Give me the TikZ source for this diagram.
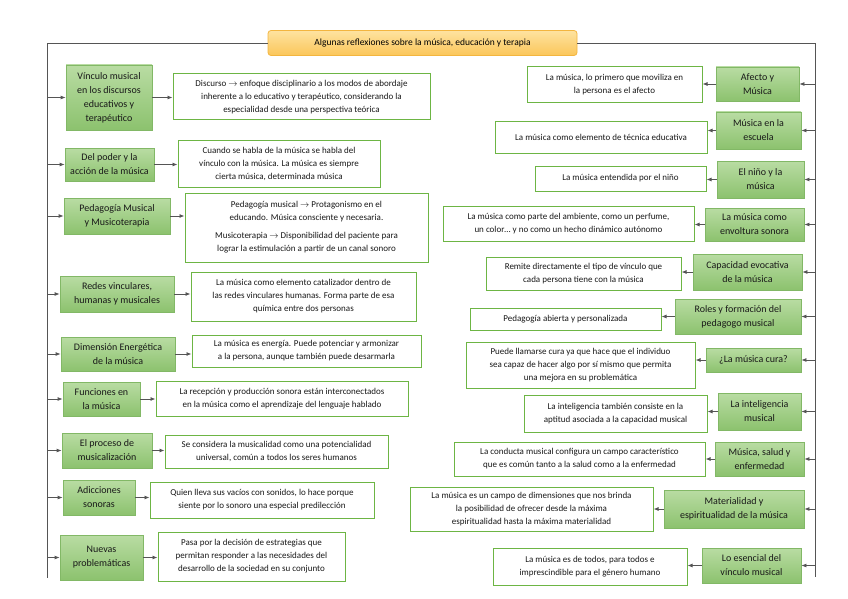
\documentclass[tikz,border=0pt]{standalone}
\usepackage{fontspec}
\setmainfont{Carlito}
\usetikzlibrary{arrows.meta}
\definecolor{gtop}{HTML}{B9DCA3}
\definecolor{gbot}{HTML}{8CC26E}
\definecolor{gdraw}{HTML}{82B866}
\definecolor{wdraw}{HTML}{6DB544}
\definecolor{ttop}{HTML}{FEE3A0}
\definecolor{tbot}{HTML}{FBC65A}
\definecolor{tdraw}{HTML}{F3B53F}
\definecolor{ln}{HTML}{555555}
\tikzset{
 gbox/.style={draw=gdraw,line width=0.8pt,top color=gtop,bottom color=gbot,align=center,inner sep=1pt,font=\fontsize{10}{14}\selectfont,text=black!90},
 wbox/.style={draw=wdraw,line width=1pt,fill=white,align=center,inner sep=1pt,font=\fontsize{9}{13}\selectfont,text=black!90},
 arr/.style={draw=ln,line width=0.8pt,-{Latex[length=5pt,width=4pt]}},
 trunk/.style={draw=ln,line width=0.9pt}
}
\newcommand{\bx}[7]{\node[#1,minimum width={(#5-#3)*1pt},minimum height={(#6-#4)*1pt}] (#2) at ({(#3+#5)/2},{(#4+#6)/2}) {#7};}
\begin{document}
\begin{tikzpicture}[x=1pt,y=-1pt]
\useasboundingbox (0,0) rectangle (848,599);
\node[draw=tdraw,line width=0.8pt,top color=ttop,bottom color=tbot,rounded corners=3pt,minimum width=309pt,minimum height=25pt,font=\fontsize{9.5}{11}\selectfont] (title) at (422.5,43) {Algunas reflexiones sobre la música, educación y terapia};
\coordinate (LT) at (47,43);
\coordinate (RT) at (815,43);
\coordinate (LB) at (47,578);
\coordinate (RB) at (815,577);
\draw[trunk] (title.west) -- (LT) -- (LB);
\draw[trunk] (title.east) -- (RT) -- (RB);
% left
\bx{gbox}{g1}{66}{65}{152}{130}{Vínculo musical\\en los discursos\\educativos y\\terapéutico}
\bx{wbox}{w1}{173}{74}{430}{120}{Discurso $\rightarrow$ enfoque disciplinario a los modos de abordaje\\inherente a lo educativo y terapéutico, considerando la\\especialidad desde una perspectiva teórica}
\bx{gbox}{g2}{65}{148}{154}{181}{Del poder y la\\acción de la música}
\bx{wbox}{w2}{178}{140}{380}{187}{Cuando se habla de la música se habla del\\vínculo con la música. La música es siempre\\cierta música, determinada música}
\bx{gbox}{g3}{64}{198}{170}{234}{Pedagogía Musical\\y Musicoterapia}
\bx{wbox}{w3}{185}{193}{428}{262}{Pedagogía musical $\rightarrow$ Protagonismo en el\\educando. Música consciente y necesaria.\\[5pt] Musicoterapia $\rightarrow$ Disponibilidad del paciente para\\lograr la estimulación a partir de un canal sonoro}
\bx{gbox}{g4}{60}{276}{174}{312}{Redes vinculares,\\humanas y musicales}
\bx{wbox}{w4}{191}{272}{416}{321}{La música como elemento catalizador dentro de\\las redes vinculares humanas. Forma parte de esa\\química entre dos personas}
\bx{gbox}{g5}{61}{337}{175}{371}{Dimensión Energética\\de la música}
\bx{wbox}{w5}{192}{335}{421}{367}{La música es energía. Puede potenciar y armonizar\\a la persona, aunque también puede desarmarla}
\bx{gbox}{g6}{63}{382}{140}{416}{Funciones en\\la música}
\bx{wbox}{w6}{156}{381}{408}{416}{La recepción y producción sonora están interconectados\\en la música como el aprendizaje del lenguaje hablado}
\bx{gbox}{g7}{62}{433}{152}{468}{El proceso de\\musicalización}
\bx{wbox}{w7}{165}{435}{388}{468}{Se considera la musicalidad como una potencialidad\\universal, común a todos los seres humanos}
\bx{gbox}{g8}{63}{480}{135}{515}{Adicciones\\sonoras}
\bx{wbox}{w8}{150}{482}{374}{518}{Quien lleva sus vacíos con sonidos, lo hace porque\\siente por lo sonoro una especial predilección}
\bx{gbox}{g9}{60}{535}{143}{580}{Nuevas\\problemáticas}
\bx{wbox}{w9}{158}{532}{345}{581}{Pasa por la decisión de estrategias que\\permitan responder a las necesidades del\\desarrollo de la sociedad en su conjunto}
\foreach \i in {1,...,9}{
 \draw[arr] (g\i.west -| LT) -- (g\i.west);
 \draw[arr] (g\i.east) -- (g\i.east -| w\i.west);
}
% right
\bx{gbox}{h1}{716}{67}{799}{101}{Afecto y\\Música}
\bx{wbox}{v1}{527}{67}{702}{103}{La música, lo primero que moviliza en\\la persona es el afecto}
\bx{gbox}{h2}{716}{112}{801}{149}{Música en la\\escuela}
\bx{wbox}{v2}{495}{122}{707}{153}{La música como elemento de técnica educativa}
\bx{gbox}{h3}{717}{161}{804}{198}{El niño y la\\música}
\bx{wbox}{v3}{535}{166}{706}{191}{La música entendida por el niño}
\bx{gbox}{h4}{705}{208}{804}{241}{La música como\\envoltura sonora}
\bx{wbox}{v4}{443}{206}{694}{241}{La música como parte del ambiente, como un perfume,\\un color… y no como un hecho dinámico autónomo}
\bx{gbox}{h5}{693}{254}{802}{290}{Capacidad evocativa\\de la música}
\bx{wbox}{v5}{486}{257}{681}{290}{Remite directamente el tipo de vínculo que\\cada persona tiene con la música}
\bx{gbox}{h6}{675}{299}{801}{334}{Roles y formación del\\pedagogo musical}
\bx{wbox}{v6}{470}{308}{661}{330}{Pedagogía abierta y personalizada}
\bx{gbox}{h7}{706}{348}{801}{372}{¿La música cura?}
\bx{wbox}{v7}{466}{342}{695}{388}{Puede llamarse cura ya que hace que el individuo\\sea capaz de hacer algo por sí mismo que permita\\una mejora en su problemática}
\bx{gbox}{h8}{718}{393}{801}{430}{La inteligencia\\musical}
\bx{wbox}{v8}{524}{395}{707}{432}{La inteligencia también consiste en la\\aptitud asociada a la capacidad musical}
\bx{gbox}{h9}{715}{442}{804}{476}{Música, salud y\\enfermedad}
\bx{wbox}{v9}{454}{442}{705}{476}{La conducta musical configura un campo característico\\que es común tanto a la salud como a la enfermedad}
\bx{gbox}{h10}{664}{490}{804}{528}{Materialidad y\\espiritualidad de la música}
\bx{wbox}{v10}{410}{487}{653}{531}{La música es un campo de dimensiones que nos brinda\\la posibilidad de ofrecer desde la máxima\\espiritualidad hasta la máxima materialidad}
\bx{gbox}{h11}{702}{548}{801}{583}{Lo esencial del\\vínculo musical}
\bx{wbox}{v11}{493}{548}{687}{585}{La música es de todos, para todos e\\imprescindible para el género humano}
\foreach \i in {1,...,11}{
 \draw[arr] (h\i.east -| RT) -- (h\i.east);
 \draw[arr] (h\i.west) -- (h\i.west -| v\i.east);
}
\end{tikzpicture}
\end{document}
